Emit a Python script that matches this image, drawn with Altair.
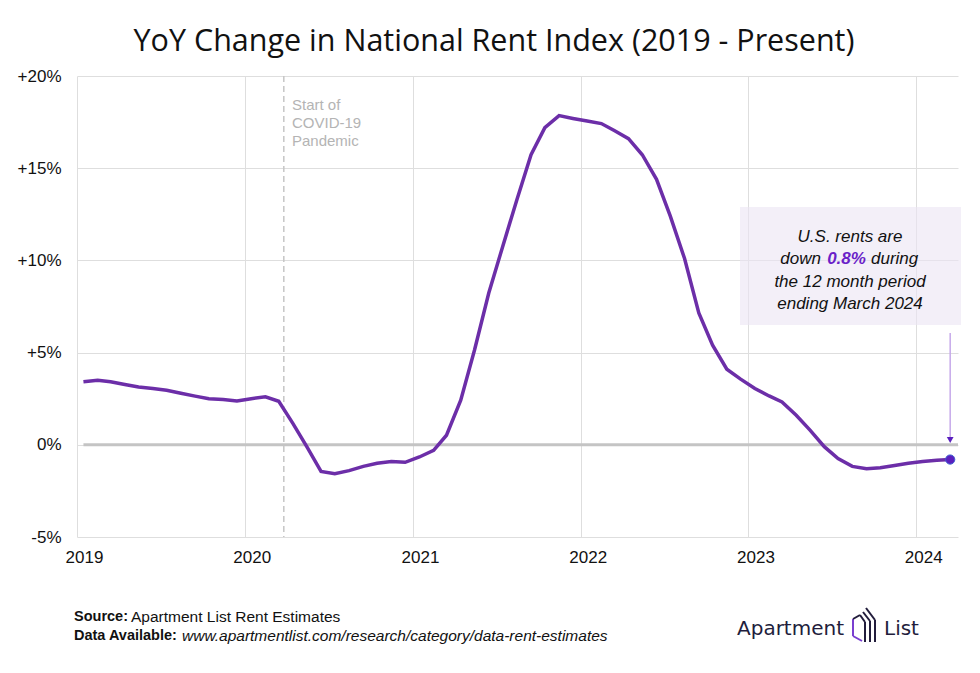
import altair as alt
import pandas as pd

# ---------------- data ----------------
years = [2019, 2020, 2021, 2022, 2023, 2024]
month_dates = [f"{y}-{m:02d}-15" for y in years for m in range(1, 13)][:63]
yoy = [
    3.42, 3.50, 3.42, 3.27, 3.14, 3.05, 2.96, 2.80, 2.64, 2.50, 2.46, 2.38,
    2.50, 2.60, 2.36, 1.15, -0.10, -1.44, -1.57, -1.40, -1.17, -1.00, -0.90, -0.95,
    -0.66, -0.30, 0.52, 2.42, 5.14, 8.23, 10.73, 13.28, 15.73, 17.20, 17.85, 17.70,
    17.56, 17.42, 17.04, 16.60, 15.73, 14.40, 12.40, 10.10, 7.15, 5.40, 4.10, 3.56,
    3.05, 2.65, 2.32, 1.60, 0.80, -0.10, -0.75, -1.17, -1.30, -1.25, -1.12, -1.00,
    -0.90, -0.84, -0.80,
]
y_ticks = [-5, 0, 5, 10, 15, 20]
covid_date = ["2020-03-26"]
covid_lines = ["Start of", "COVID-19", "Pandemic"]

df = pd.DataFrame({"date": month_dates, "yoy": yoy})
last_df = df.tail(1)
zero_df = pd.DataFrame({"date": ["2019-01-15"], "date_end": ["2024-04-01"], "yoy": [0]})
covid_df = pd.DataFrame({"date": covid_date})
one = pd.DataFrame({"k": [0]})

PURPLE = "#6c2ea8"
DOT = "#5a1fbe"
FONT = "Liberation Sans"

X = alt.X(
    "date:T",
    title=None,
    scale=alt.Scale(domain=[alt.DateTime(year=2019, month=1, date=1),
                            alt.DateTime(year=2024, month=4, date=1)]),
    axis=alt.Axis(values=[alt.DateTime(year=y, month=1, date=1) for y in years],
                  format="%Y", labelOffset=7, labelPadding=12, tickSize=0,
                  labelFlush=False, labelOverlap=False,
                  domain=False, grid=True, labelFontSize=17, labelColor="#111",
                  labelFont=FONT),
)
Y = alt.Y(
    "yoy:Q",
    title=None,
    scale=alt.Scale(domain=[-5, 20], nice=False, zero=False),
    axis=alt.Axis(values=y_ticks, tickSize=0, domain=False, grid=True,
                  labelPadding=16, labelFontSize=17, labelColor="#111", labelFont=FONT,
                  labelExpr="datum.value > 0 ? '+' + datum.value + '%' : datum.value + '%'"),
)

line = alt.Chart(df).mark_line(color=PURPLE, strokeWidth=3.5).encode(x=X, y=Y)

zero = alt.Chart(zero_df).mark_rule(color="#c4c4c4", strokeWidth=3).encode(
    x=X, x2="date_end:T", y=Y)

covid = alt.Chart(covid_df).mark_rule(color="#c6c6c6", strokeWidth=1.5,
                                     strokeDash=[6, 4]).encode(x=X)

covid_txt = [
    alt.Chart(one).mark_text(text=t, align="left", baseline="middle", font=FONT,
                             fontSize=15, color="#b4b4b4").encode(
        x=alt.value(215), y=alt.value(29 + 18 * i))
    for i, t in enumerate(covid_lines)
]

box = alt.Chart(one).mark_rect(color="#ebe5f4", opacity=0.6).encode(
    x=alt.value(663), x2=alt.value(884), y=alt.value(131), y2=alt.value(249))


def t(text, x, y, align="center", color="#111", weight="normal", size=17):
    return alt.Chart(one).mark_text(text=text, align=align, baseline="middle",
                                    font=FONT, fontSize=size, fontStyle="italic",
                                    fontWeight=weight, color=color).encode(
        x=alt.value(x), y=alt.value(y))


box_txt = [
    t("U.S. rents are", 773, 161),
    t("down", 744, 183, align="right"),
    t("0.8%", 769.5, 183, color="#6a1fc8", weight="bold"),
    t("during", 794, 183, align="left"),
    t("the 12 month period", 773, 206),
    t("ending March 2024", 773, 228),
]

arrow = alt.Chart(last_df).mark_rule(color="#c6a9ea", strokeWidth=1.5).encode(
    x=X, y=alt.value(257), y2=alt.value(362))
arrow_head = alt.Chart(last_df).mark_point(shape="triangle-down", filled=True,
                                           color=DOT, size=45, opacity=1).encode(
    x=X, y=alt.value(364))
dot = alt.Chart(last_df).mark_circle(size=85, color=DOT, stroke="#3f5fd0",
                                     strokeWidth=1, opacity=1).encode(x=X, y=Y)

title = alt.Chart(one).mark_text(text="YoY Change in National Rent Index (2019 - Present)",
                                 align="center", baseline="middle", font="Open Sans",
                                 fontSize=30.5, color="#111").encode(
    x=alt.value(417), y=alt.value(-34))


def foot(text, x, y, weight="normal", style="normal", size=15.5):
    return alt.Chart(one).mark_text(text=text, align="left", baseline="middle",
                                    font=FONT, fontSize=size, fontWeight=weight,
                                    fontStyle=style, color="#111").encode(
        x=alt.value(x), y=alt.value(y))


footer = [
    foot("Source:", -3, 541, weight="bold", size=14.5),
    foot("Apartment List Rent Estimates", 54, 541),
    foot("Data Available:", -3, 560, weight="bold", size=14.5),
    foot("www.apartmentlist.com/research/category/data-rent-estimates", 105, 560, style="italic"),
]

NAVY = "#221d3c"
logo_txt = [
    alt.Chart(one).mark_text(text="Apartment", align="left", baseline="middle",
                             font="DejaVu Sans", fontSize=20, color=NAVY).encode(
        x=alt.value(660), y=alt.value(553)),
    alt.Chart(one).mark_text(text="List", align="left", baseline="middle",
                             font="DejaVu Sans", fontSize=20, color=NAVY).encode(
        x=alt.value(807), y=alt.value(553)),
]
# small stylised logo icon
icon_segments = [
    (776, 543, 776, 560, "#7a3fd0"),
    (776, 560, 785, 565, "#7a3fd0"),
    (776, 543, 783, 539, NAVY),
    (783, 539, 788, 546, NAVY),
    (788, 546, 788, 566, NAVY),
    (786, 536, 793, 545, NAVY),
    (793, 545, 793, 566, NAVY),
    (789, 532, 798, 544, NAVY),
    (798, 544, 798, 566, NAVY),
]
icon = [
    alt.Chart(one).mark_rule(color=c, strokeWidth=2).encode(
        x=alt.value(a), y=alt.value(b), x2=alt.value(cx), y2=alt.value(d))
    for a, b, cx, d, c in icon_segments
]

chart = alt.layer(
    box, covid, zero, line, arrow, arrow_head, dot, *covid_txt, *box_txt,
    title, *footer, *logo_txt, *icon,
).properties(
    width=881, height=461,
    autosize=alt.AutoSizeParams(type="none"),
    padding={"left": 69, "top": 68, "right": 14, "bottom": 120},
).configure_view(stroke=None).configure_axis(
    gridColor="#dedede", gridWidth=1
)

chart.save("out.html", embed_options={"renderer": "svg", "actions": False})
